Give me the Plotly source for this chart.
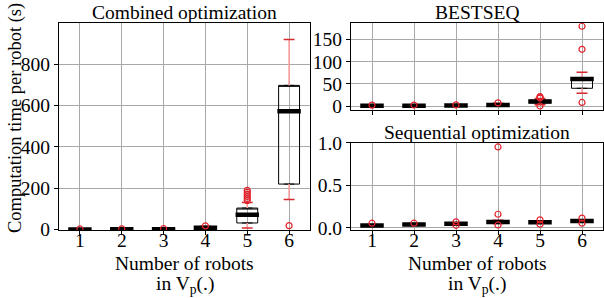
import plotly.graph_objects as go

positions = [1, 2, 3, 4, 5, 6]
tick_text = ["1", "2", "3", "4", "5", "6"]

# Combined optimization
comb_q1 = [0.5, 1.0, 1.5, 5, 32, 220]
comb_med = [1.0, 1.5, 2.0, 9, 72, 572]
comb_q3 = [1.5, 2.0, 3.0, 12, 104, 697]
comb_lo = [0.2, 0.5, 1.0, 2, 8, 145]
comb_hi = [2.5, 3.0, 4.0, 16, 131, 919]
comb_out = [[3], [3.5], [5], [18], [140, 150, 160, 170, 180, 190], [19]]

# BESTSEQ
best_q1 = [0.3, 0.4, 0.5, 1.0, 7, 40]
best_med = [0.6, 0.8, 1.0, 2.5, 10, 61]
best_q3 = [1.0, 1.2, 1.5, 4.0, 13, 64]
best_lo = [0.1, 0.2, 0.3, 0.3, 3, 29]
best_hi = [1.5, 1.6, 2.0, 6.0, 17, 76]
best_out = [[2], [2.2], [2.5], [7], [0, 18, 20, 21], [8, 128, 180]]

# Sequential optimization
seq_q1 = [0.020, 0.032, 0.040, 0.060, 0.060, 0.075]
seq_med = [0.027, 0.039, 0.047, 0.070, 0.067, 0.082]
seq_q3 = [0.035, 0.045, 0.053, 0.078, 0.073, 0.088]
seq_lo = [0.015, 0.028, 0.035, 0.050, 0.055, 0.068]
seq_hi = [0.040, 0.050, 0.058, 0.090, 0.080, 0.095]
seq_out = [[0.055], [0.055], [0.03, 0.07], [0.035, 0.16, 0.95], [0.043, 0.094], [0.055, 0.114]]

FONT = "Liberation Serif"
W, H = 604, 298

fig = go.Figure()


def add_panel(xa, ya, q1, med, q3, lo, hi, out):
    xref = "x" if xa == 1 else f"x{xa}"
    yref = "y" if ya == 1 else f"y{ya}"
    fig.add_trace(go.Box(
        x=positions, q1=q1, median=q3, q3=q3, lowerfence=q1, upperfence=q3,
        width=0.5, line=dict(color="black", width=1), fillcolor="rgba(0,0,0,0)",
        boxpoints=False, xaxis=xref, yaxis=yref, showlegend=False, hoverinfo="skip"))
    # whiskers
    wx, wy = [], []
    for p, a, b, c, d in zip(positions, lo, q1, q3, hi):
        wx += [p, p, None, p, p, None]
        wy += [a, b, None, c, d, None]
    fig.add_trace(go.Scatter(x=wx, y=wy, mode="lines", line=dict(color="#ff9c9c", width=1.5),
                             xaxis=xref, yaxis=yref, showlegend=False, hoverinfo="skip"))
    # caps
    cx, cy = [], []
    for p, a, d in zip(positions, lo, hi):
        cx += [p - 0.13, p + 0.13, None, p - 0.13, p + 0.13, None]
        cy += [a, a, None, d, d, None]
    fig.add_trace(go.Scatter(x=cx, y=cy, mode="lines", line=dict(color="#d42a30", width=1.5),
                             xaxis=xref, yaxis=yref, showlegend=False, hoverinfo="skip"))
    # medians
    mx, my = [], []
    for p, m in zip(positions, med):
        mx += [p - 0.28, p + 0.28, None]
        my += [m, m, None]
    fig.add_trace(go.Scatter(x=mx, y=my, mode="lines", line=dict(color="black", width=4.5),
                             xaxis=xref, yaxis=yref, showlegend=False, hoverinfo="skip"))
    # outliers
    ox, oy = [], []
    for p, vals in zip(positions, out):
        for v in vals:
            ox.append(p)
            oy.append(v)
    fig.add_trace(go.Scatter(x=ox, y=oy, mode="markers",
                             marker=dict(symbol="circle-open", size=6, color="#e3212b", line=dict(width=1.2)),
                             xaxis=xref, yaxis=yref, showlegend=False, hoverinfo="skip"))


add_panel(1, 1, comb_q1, comb_med, comb_q3, comb_lo, comb_hi, comb_out)
add_panel(2, 2, best_q1, best_med, best_q3, best_lo, best_hi, best_out)
add_panel(3, 3, seq_q1, seq_med, seq_q3, seq_lo, seq_hi, seq_out)


def px_x(v):
    return v / W


def px_y(v):
    return 1 - v / H


common_axis = dict(showline=True, mirror=True, linecolor="black", linewidth=1.2,
                   ticks="outside", ticklen=4, tickcolor="black", automargin=False,
                   showgrid=True, gridcolor="#a8a8a8", gridwidth=1, zeroline=False,
                   tickfont=dict(family=FONT, size=19.5, color="black"))

xdomL = [px_x(59), px_x(310)]
xdomR = [px_x(351), px_x(603)]

fig.update_layout(
    width=W, height=H, margin=dict(l=0, r=0, t=0, b=0, autoexpand=False),
    paper_bgcolor="white", plot_bgcolor="white",
    font=dict(family=FONT, size=19, color="black"),
    xaxis=dict(domain=xdomL, anchor="y", range=[0.5, 6.5], tickvals=positions, ticktext=tick_text,
               ticklabelstandoff=-12, **common_axis),
    yaxis=dict(domain=[px_y(230), px_y(22.7)], anchor="x", range=[-2, 1000],
               tickvals=[0, 200, 400, 600, 800], **common_axis),
    xaxis2=dict(domain=xdomR, anchor="y2", range=[0.5, 6.5], tickvals=positions, showticklabels=False, **common_axis),
    yaxis2=dict(domain=[px_y(110), px_y(22.7)], anchor="x2", range=[-9, 188],
                tickvals=[0, 50, 100, 150], **common_axis),
    xaxis3=dict(domain=xdomR, anchor="y3", range=[0.5, 6.5], tickvals=positions, ticktext=tick_text,
                ticklabelstandoff=-12, **common_axis),
    yaxis3=dict(domain=[px_y(230), px_y(142.7)], anchor="x3", range=[-0.025, 1.0],
                tickvals=[0.0, 0.5, 1.0], ticktext=["0.0", "0.5", "1.0"], **common_axis),
)

ann_font = dict(family=FONT, size=19.5, color="black")
annotations = [
    dict(text="Combined optimization", x=px_x(184.5), y=px_y(12.5), xanchor="center", yanchor="middle"),
    dict(text="BESTSEQ", x=px_x(477), y=px_y(12.5), xanchor="center", yanchor="middle"),
    dict(text="Sequential optimization", x=px_x(477), y=px_y(132), xanchor="center", yanchor="middle"),
    dict(text="Number of robots", x=px_x(184.5), y=px_y(263.5), xanchor="center", yanchor="middle"),
    dict(text="in V<sub>p</sub>(.)", x=px_x(184.5), y=px_y(284.5), xanchor="center", yanchor="middle"),
    dict(text="Number of robots", x=px_x(477), y=px_y(263.5), xanchor="center", yanchor="middle"),
    dict(text="in V<sub>p</sub>(.)", x=px_x(477), y=px_y(284.5), xanchor="center", yanchor="middle"),
    dict(text="Computation time per robot (s)", x=px_x(15), y=px_y(118), xanchor="center", yanchor="middle",
         textangle=-90, font=dict(family=FONT, size=18.5, color="black")),
]
for a in annotations:
    a.setdefault("font", ann_font)
    fig.add_annotation(xref="paper", yref="paper", showarrow=False, **a)

fig.write_html("out.html", config={"displayModeBar": False},
               post_script="document.body.style.margin='0';document.body.style.padding='0';"
                           "document.body.style.overflow='hidden';")
